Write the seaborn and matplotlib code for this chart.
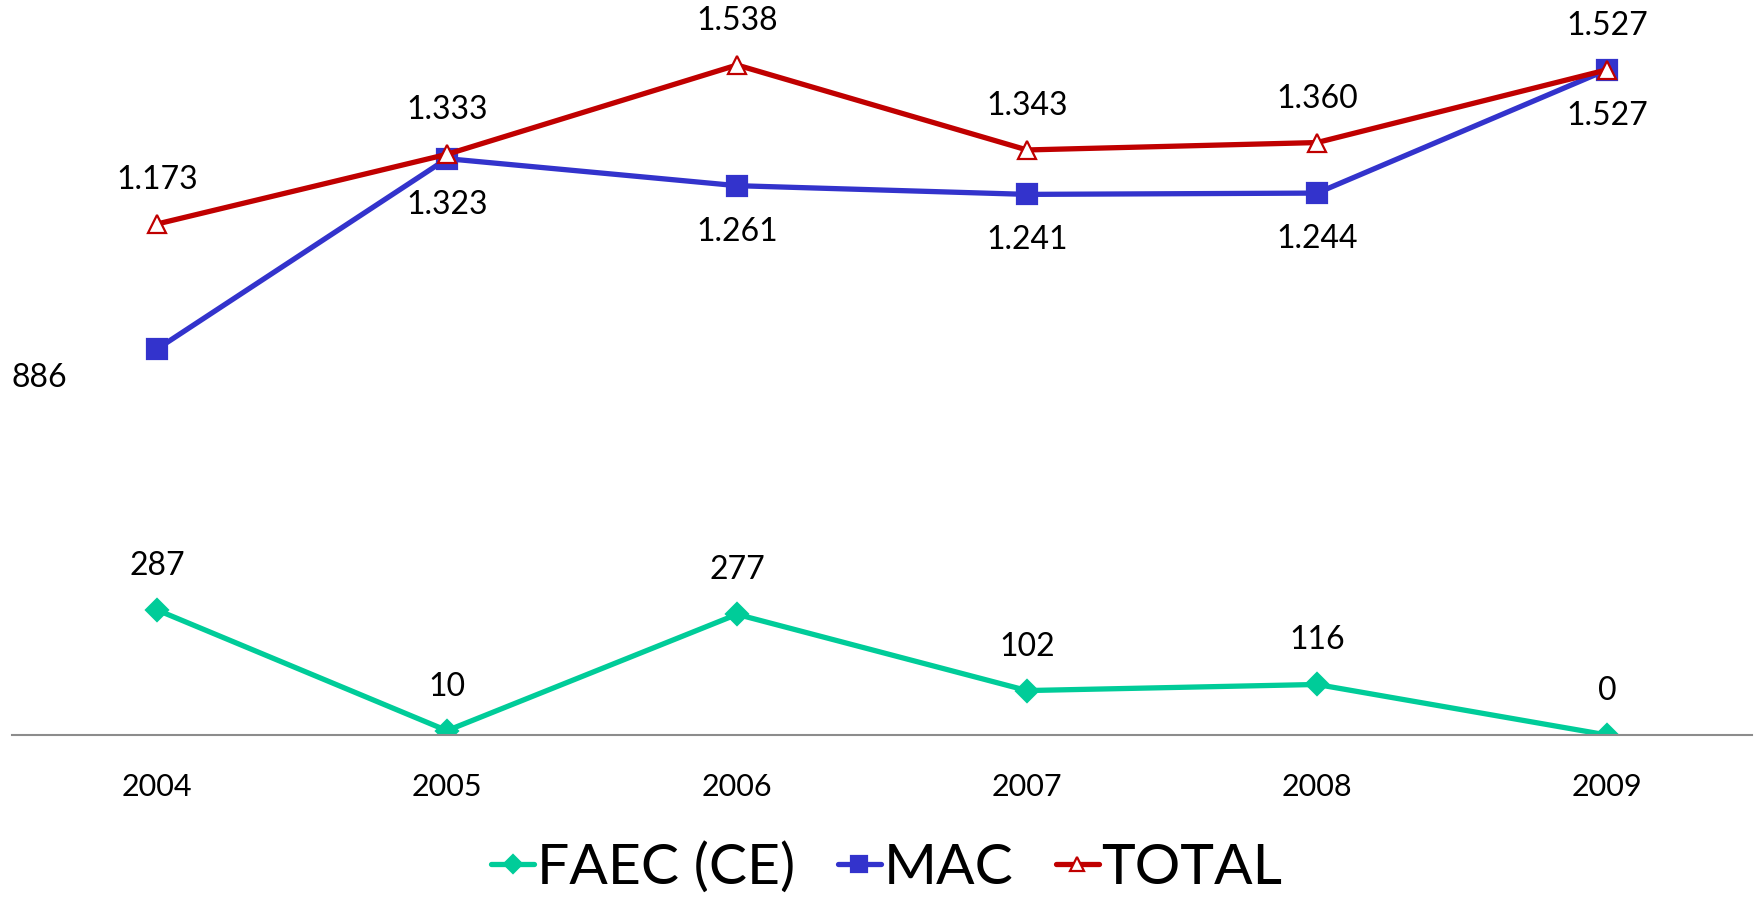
import matplotlib
matplotlib.use("Agg")
import matplotlib.pyplot as plt
import pandas as pd
import seaborn as sns

# data
years = ["2004", "2005", "2006", "2007", "2008", "2009"]
faec = [287, 10, 277, 102, 116, 0]
mac = [886, 1323, 1261, 1241, 1244, 1527]
total = [1173, 1333, 1538, 1343, 1360, 1527]

sns.set_style("white")
plt.rcParams["font.family"] = ["Lato", "DejaVu Sans"]
plt.rcParams["text.color"] = "black"
plt.rcParams["xtick.color"] = "black"

fig = plt.figure(figsize=(17.6, 8.99), dpi=100)
ax = fig.add_axes([12 / 1760, 164 / 899, 1740 / 1760, 697 / 899])


def fmt(v):
    # thousands separated with a dot
    return f"{v:,}".replace(",", ".")


series = [
    ("FAEC (CE)", faec, "#00CC99", "D", 11, "#00CC99"),
    ("MAC", mac, "#3333CC", "s", 14, "#3333CC"),
    ("TOTAL", total, "#C00000", "^", 13, "white"),
]

for name, vals, col, mk, ms, face in series:
    df = pd.DataFrame({"year": years, "value": vals})
    sns.lineplot(data=df, x="year", y="value", ax=ax, color=col, linewidth=3.8,
                 marker=mk, markersize=ms, markerfacecolor=face,
                 markeredgecolor=col, markeredgewidth=1.6, label=name)

# data labels
for i, v in enumerate(faec):
    ax.annotate(fmt(v), (i, v), xytext=(0, 44), textcoords="offset pixels",
                ha="center", va="center", fontsize=23)
for i, v in enumerate(total):
    ax.annotate(fmt(v), (i, v), xytext=(0, 44), textcoords="offset pixels",
                ha="center", va="center", fontsize=23, annotation_clip=False)
for i, v in enumerate(mac):
    off = (-118, -29) if i == 0 else (0, -46)
    ax.annotate(fmt(v), (i, v), xytext=off, textcoords="offset pixels",
                ha="center", va="center", fontsize=23)

ax.set_xlim(-0.5, 5.5)
ax.set_ylim(0, 1600)
ax.set_yticks([])
ax.set_xlabel("")
ax.set_ylabel("")
for s in ["top", "right", "left"]:
    ax.spines[s].set_visible(False)
ax.spines["bottom"].set_color("#8C8C8C")
ax.spines["bottom"].set_linewidth(1.5)
ax.tick_params(axis="x", length=0, pad=27, labelsize=22)

leg = ax.legend(loc="center", bbox_to_anchor=(887 / 1760, 31 / 899),
                bbox_transform=fig.transFigure, ncol=3, frameon=False,
                fontsize=41, handlelength=0.75, handletextpad=0.05,
                columnspacing=0.75, markerscale=0.8)

fig.savefig("out.png", dpi=100)
